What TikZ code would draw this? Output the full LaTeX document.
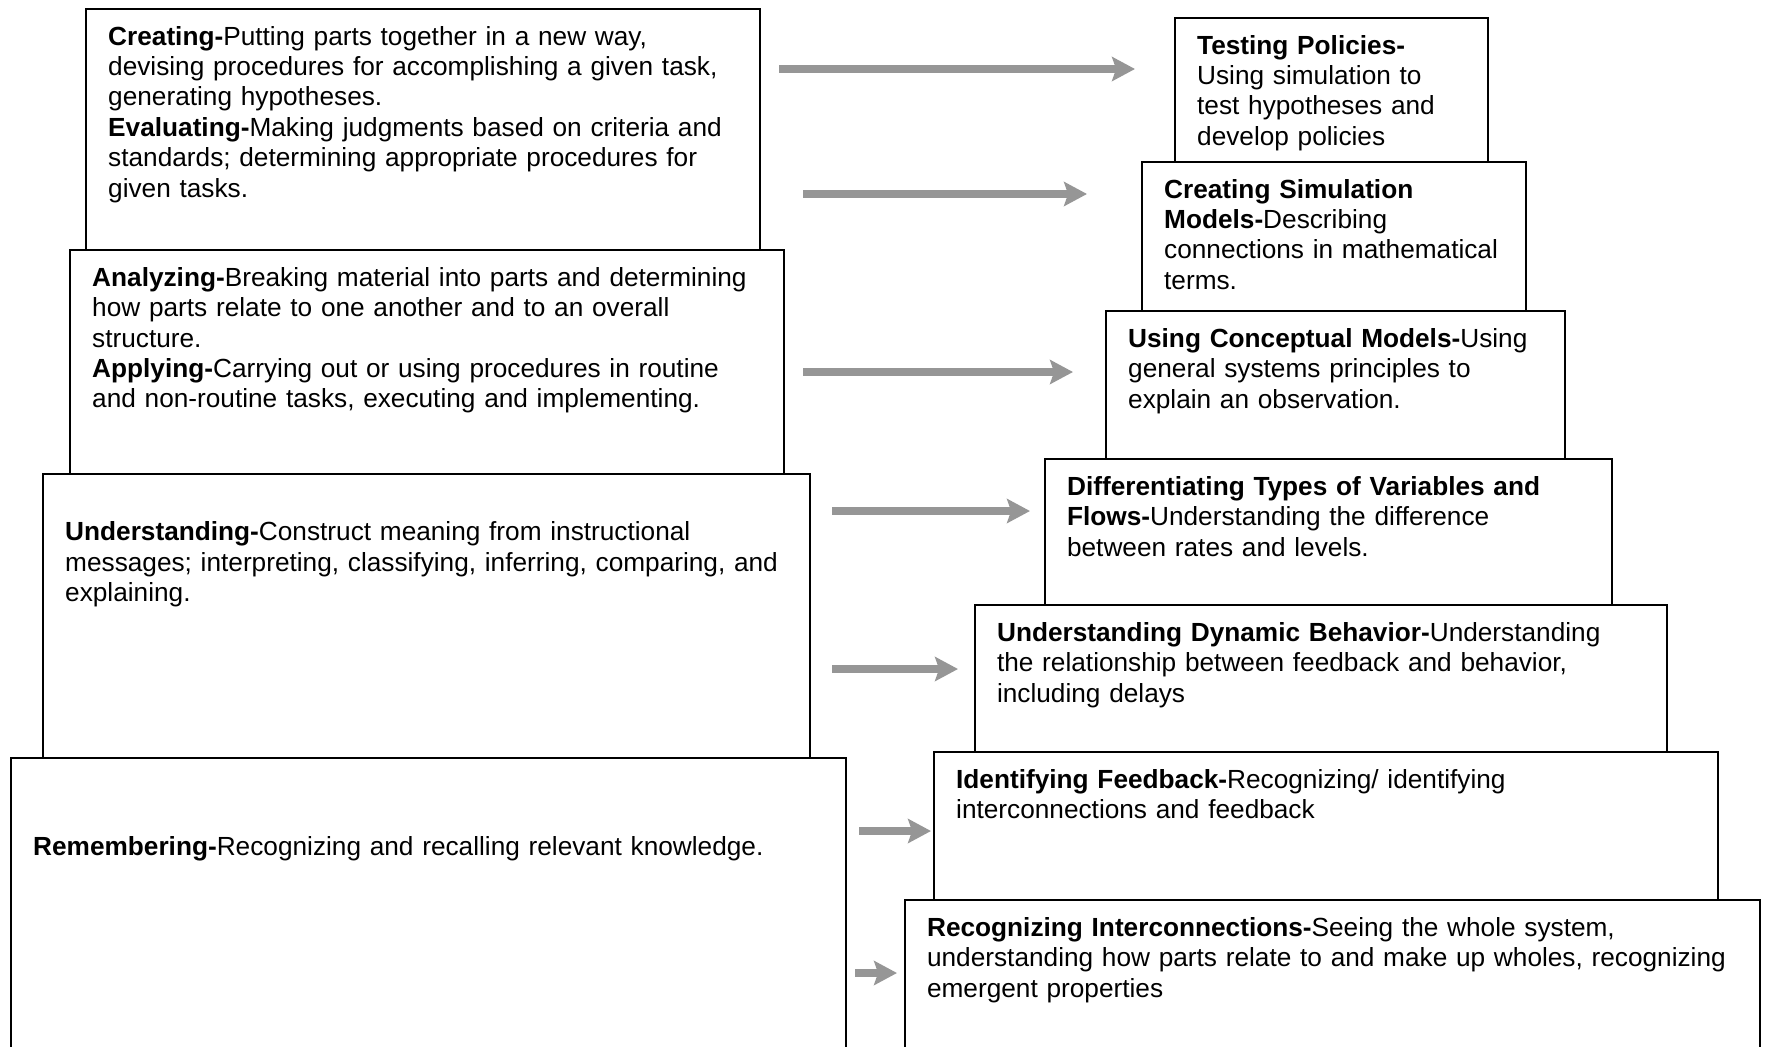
\documentclass[tikz,border=0pt]{standalone}
\usepackage{fontspec}
\setmainfont{Liberation Sans}
\usetikzlibrary{positioning,arrows.meta}
\definecolor{arrowgray}{RGB}{150,150,150}

\begin{document}
\begin{tikzpicture}[x=0.45pt, y=-0.45pt, node distance=0pt, ->, >={Stealth[length=10.3pt, width=10.8pt, inset=1.8pt]},
	stage/.style={draw, line width=0.9pt, rectangle, outer sep=0pt, inner xsep=10pt, inner ysep=0pt,
		align=left, text height=16.2pt, font=\fontsize{11.8pt}{13.7pt}\selectfont},
	flow/.style={arrowgray, line width=3.6pt}]
	\clip (0,0) rectangle (1768,1046);

	% thinking levels
	\node[stage, text width=283.3pt, text depth=92.3pt, anchor=north] (crt) at (423,9)
		{\textbf{Creating-}Putting parts together in a new way,\\
		devising procedures for accomplishing a given task,\\
		generating hypotheses.\\
		\textbf{Evaluating-}Making judgments based on criteria and\\
		standards; determining appropriate procedures for\\
		given tasks.};
	\node[stage, text width=301.3pt, text depth=84.6pt, below=of crt, xshift=1.8pt] (ana)
		{\textbf{Analyzing-}Breaking material into parts and determining\\
		how parts relate to one another and to an overall\\
		structure.\\
		\textbf{Applying-}Carrying out or using procedures in routine\\
		and non-routine tasks, executing and implementing.};
	\node[stage, text width=325.2pt, text depth=111.6pt, below=of ana, xshift=-0.2pt] (und)
		{\mbox{}\\
		\textbf{Understanding-}Construct meaning from instructional\\
		messages; interpreting, classifying, inferring, comparing, and\\
		explaining.};
	\node[stage, text width=355.8pt, text depth=124.2pt, below=of und, xshift=0.9pt] (rem)
		{\mbox{}\\
		\mbox{}\\
		\textbf{Remembering-}Recognizing and recalling relevant knowledge.};

	% systems thinking levels
	\node[stage, text width=120.9pt, text depth=48.6pt, anchor=north] (tst) at (1331.5,18)
		{\textbf{Testing Policies-}\\
		Using simulation to\\
		test hypotheses and\\
		develop policies};
	\node[stage, text width=152.8pt, text depth=50.9pt, below=of tst, xshift=1.1pt] (sim)
		{\textbf{Creating Simulation}\\
		\textbf{Models-}Describing\\
		connections in mathematical\\
		terms.};
	\node[stage, text width=186.6pt, text depth=50.4pt, below=of sim, xshift=0.7pt] (con)
		{\textbf{Using Conceptual Models-}Using\\
		general systems principles to\\
		explain an observation.};
	\node[stage, text width=235.2pt, text depth=49.5pt, below=of con, xshift=-3.2pt] (var)
		{\textbf{Differentiating Types of Variables and}\\
		\textbf{Flows-}Understanding the difference\\
		between rates and levels.};
	\node[stage, text width=291.4pt, text depth=50.0pt, below=of var, xshift=-3.4pt] (dyn)
		{\textbf{Understanding Dynamic Behavior-}Understanding\\
		the relationship between feedback and behavior,\\
		including delays};
	\node[stage, text width=332.8pt, text depth=50.4pt, below=of dyn, xshift=2.3pt] (fbk)
		{\textbf{Identifying Feedback-}Recognizing/ identifying\\
		interconnections and feedback};
	\node[stage, text width=364.8pt, text depth=60.3pt, below=of fbk, xshift=2.9pt] (icn)
		{\textbf{Recognizing Interconnections-}Seeing the whole system,\\
		understanding how parts relate to and make up wholes, recognizing\\
		emergent properties};

	% arrow ends
	\foreach \n/\y/\xs/\xe in {1/69/779/1135, 2/194/803/1087, 3/372/803/1073, 4/511/832/1030,
		5/669/832/958, 6/831/859/931, 7/973/855/897}{
		\coordinate (s\n) at (\xs,\y);
		\coordinate (e\n) at (\xe,\y);
	}

	\path[flow]
		(s1) edge (e1)
		(s2) edge (e2)
		(s3) edge (e3)
		(s4) edge (e4)
		(s5) edge (e5)
		(s6) edge (e6)
		(s7) edge (e7);
\end{tikzpicture}
\end{document}
